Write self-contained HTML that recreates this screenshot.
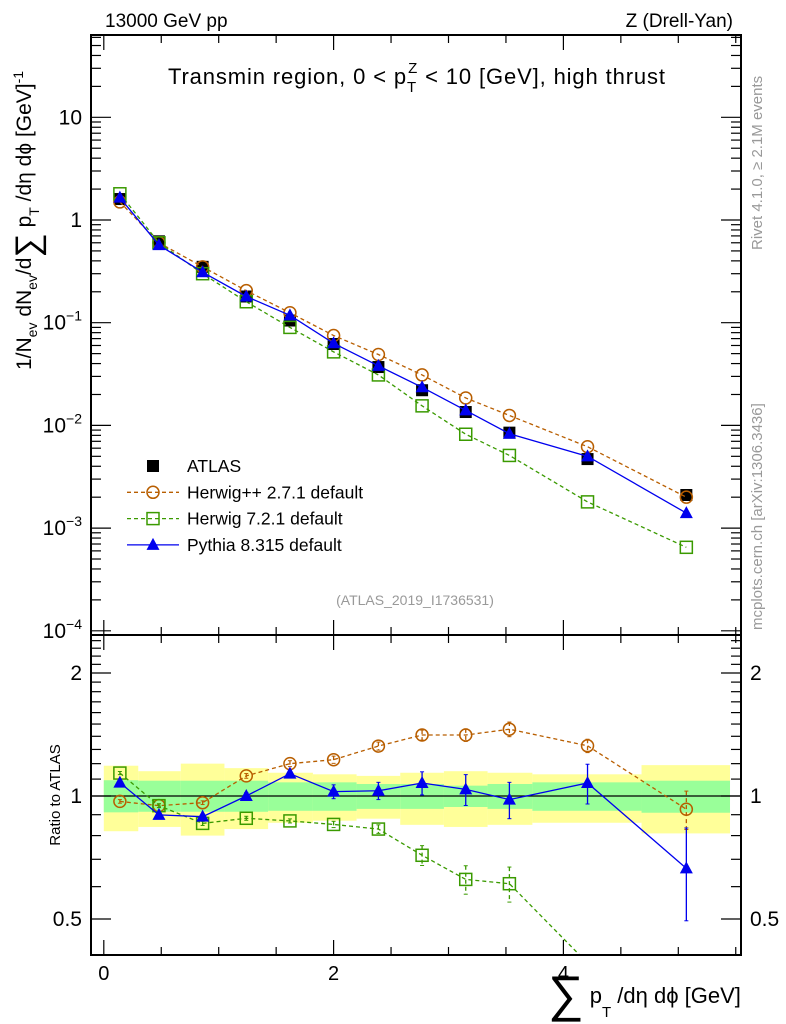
<!DOCTYPE html>
<html><head><meta charset="utf-8"><style>
body{margin:0;background:#fff;}
svg{display:block;font-family:"Liberation Sans",sans-serif;}
</style></head><body>
<svg id="c" width="786" height="1024" xmlns="http://www.w3.org/2000/svg">
<text x="105" y="27" font-size="19">13000 GeV pp</text>
<text x="733" y="27" font-size="19" text-anchor="end">Z (Drell-Yan)</text>
<text x="168" y="84" font-size="22" textLength="497">Transmin region, 0 &lt; p<tspan font-size="15" dy="8">T</tspan><tspan font-size="15" dx="-9" dy="-19">Z</tspan><tspan dy="11"> &lt; 10 [GeV], high thrust</tspan></text>
<text transform="translate(762,250) rotate(-90)" font-size="15" fill="#999">Rivet 4.1.0, ≥ 2.1M events</text>
<text transform="translate(762,630) rotate(-90)" font-size="15" fill="#999">mcplots.cern.ch [arXiv:1306.3436]</text>
<text x="415" y="605" font-size="14" fill="#999" text-anchor="middle">(ATLAS_2019_I1736531)</text>
<text transform="translate(31,370) rotate(-90)" font-size="21">1/N<tspan font-size="14" dy="6">ev</tspan><tspan dy="-6"> dN</tspan><tspan font-size="14" dy="6">ev</tspan><tspan dy="-6">/d</tspan><tspan font-size="34" dy="8">∑</tspan><tspan dy="-8"> p</tspan><tspan font-size="14" dy="8">T</tspan><tspan dy="-8"> /dη dϕ  [GeV]</tspan><tspan font-size="14" dy="-8">-1</tspan></text>
<text transform="translate(60,795) rotate(-90)" font-size="15" text-anchor="middle">Ratio to ATLAS</text>
<text x="548" y="1003" font-size="22"><tspan font-size="50" dy="8">∑</tspan><tspan dy="-8"> p</tspan><tspan font-size="15" dy="14">T</tspan><tspan dy="-14"> /dη dϕ [GeV]</tspan></text>
<g id="g"></g>
</svg>
<script>
const xCenters=[0.14,0.48,0.86,1.24,1.62,2.0,2.39,2.77,3.15,3.53,4.21,5.07];
const binEdges=[0,0.3,0.67,1.05,1.43,1.82,2.2,2.58,2.96,3.34,3.73,4.68,5.45];
const atlas=[1.6,0.62,0.35,0.18,0.105,0.062,0.037,0.022,0.0135,0.0085,0.0047,0.0021];
const herwigpp=[1.5,0.6,0.35,0.205,0.125,0.075,0.049,0.031,0.0185,0.0125,0.0062,0.002];
const herwig7=[1.8,0.6,0.3,0.16,0.09,0.052,0.031,0.0155,0.0082,0.0051,0.0018,0.00065];
const pythia=[1.65,0.57,0.31,0.18,0.118,0.063,0.038,0.0235,0.014,0.0083,0.005,0.0014];
const rHpp=[0.97,0.947,0.963,1.12,1.2,1.227,1.325,1.41,1.41,1.457,1.327,0.928];
const rHppErr=[0.01,0.01,0.01,0.015,0.02,0.025,0.03,0.04,0.05,0.06,0.05,0.1];
const rH7=[1.138,0.947,0.857,0.882,0.869,0.852,0.83,0.716,0.625,0.61,0.39,0.31];
const rH7Err=[0.01,0.01,0.01,0.01,0.01,0.015,0.02,0.04,0.05,0.06,0.015,0.05];
const rPy=[1.078,0.899,0.89,1.0,1.134,1.025,1.03,1.076,1.038,0.98,1.076,0.665];
const rPyErr=[0.01,0.01,0.01,0.02,0.02,0.04,0.05,0.07,0.09,0.1,0.12,0.17];
const bandYellowHi=[1.186,1.15,1.2,1.17,1.14,1.13,1.12,1.14,1.15,1.14,1.13,1.19];
const bandYellowLo=[0.82,0.84,0.8,0.83,0.86,0.87,0.88,0.85,0.84,0.85,0.86,0.81];
const bandGreenHi=[1.093,1.09,1.09,1.09,1.08,1.08,1.07,1.07,1.06,1.07,1.08,1.09];
const bandGreenLo=[0.912,0.915,0.915,0.915,0.92,0.92,0.93,0.93,0.94,0.93,0.92,0.91];
const yTickLabels=["10","1","10^-1","10^-2","10^-3","10^-4"];
const yTickVals=[10,1,0.1,0.01,0.001,0.0001];

const NS="http://www.w3.org/2000/svg";
const g=document.getElementById('g');
const L=91,R=741,T=35,MB=635,RB=955;
const X=v=>103.8+v*114.9;
const Y=v=>220-Math.log10(v)*102.7;
const RY=v=>796-Math.log10(v)*408.6;
function el(t,a,p){const e=document.createElementNS(NS,t);for(const k in a)e.setAttribute(k,a[k]);(p||g).appendChild(e);return e;}

const defs=el('defs',{});
const c1=el('clipPath',{id:'cm'},defs);el('rect',{x:L,y:T,width:R-L,height:MB-T},c1);
const c2=el('clipPath',{id:'cr'},defs);el('rect',{x:L,y:MB,width:R-L,height:RB-MB},c2);

const bandG=el('g',{'clip-path':'url(#cr)'});


for(let i=0;i<xCenters.length;i++){
  const x0=X(binEdges[i]),x1=X(binEdges[i+1]);
  const ry=el('rect',{x:x0,y:RY(bandYellowHi[i]),width:x1-x0,height:RY(bandYellowLo[i])-RY(bandYellowHi[i]),fill:'#ffff99'},bandG);
  
  
}
for(let i=0;i<xCenters.length;i++){
  const x0=X(binEdges[i]),x1=X(binEdges[i+1]);
  const rg=el('rect',{x:x0,y:RY(bandGreenHi[i]),width:x1-x0,height:RY(bandGreenLo[i])-RY(bandGreenHi[i]),fill:'#99ff99'},bandG);
  
  
}
el('line',{x1:L,x2:R,y1:RY(1),y2:RY(1),stroke:'#000','stroke-width':1.3});

function marker(type,x,y,color,parent){
  if(type==='sq')return el('rect',{x:x-6,y:y-6,width:12,height:12,fill:'#000'},parent);
  if(type==='osq')return el('rect',{x:x-6,y:y-6,width:12,height:12,fill:'none',stroke:color,'stroke-width':1.5},parent);
  if(type==='oc')return el('circle',{cx:x,cy:y,r:6,fill:'none',stroke:color,'stroke-width':1.5},parent);
  return el('path',{d:`M${x},${y-7}L${x+6.5},${y+5}L${x-6.5},${y+5}Z`,fill:color},parent);
}
function series(vals,yf,color,dash,type,name,errs,clip,lineOn){
  const sg=el('g',{'clip-path':clip});
  
  
  if(lineOn){
    const pts=vals.map((v,i)=>X(xCenters[i])+','+yf(v)).join(' ');
    el('polyline',{points:pts,fill:'none',stroke:color,'stroke-width':1.3,'stroke-dasharray':dash||'none'},sg);
  }
  vals.forEach((v,i)=>{
    const x=X(xCenters[i]);
    if(errs){el('line',{x1:x,x2:x,y1:yf(v+errs[i]),y2:yf(v-errs[i]),stroke:color,'stroke-width':1.3,'stroke-dasharray':dash||'none'},sg);
      el('line',{x1:x-2,x2:x+2,y1:yf(v+errs[i]),y2:yf(v+errs[i]),stroke:color},sg);
      el('line',{x1:x-2,x2:x+2,y1:yf(v-errs[i]),y2:yf(v-errs[i]),stroke:color},sg);}
    const m=marker(type,x,yf(v),color,sg);
    
    
  });
}
const BR='#b85e00',GR='#3a9a00',BL='#0000ee';
series(atlas,Y,'#000',null,'sq','atlas-data',null,'url(#cm)',false);
series(herwigpp,Y,BR,'4,3','oc','herwigpp-main',null,'url(#cm)',true);
series(herwig7,Y,GR,'4,3','osq','herwig7-main',null,'url(#cm)',true);
series(pythia,Y,BL,null,'tri','pythia-main',null,'url(#cm)',true);
series(rHpp,RY,BR,'4,3','oc','herwigpp-ratio',rHppErr,'url(#cr)',true);
series(rH7,RY,GR,'4,3','osq','herwig7-ratio',rH7Err,'url(#cr)',true);
series(rPy,RY,BL,null,'tri','pythia-ratio',rPyErr,'url(#cr)',true);

const f1=el('rect',{x:L,y:T,width:R-L,height:MB-T,fill:'none',stroke:'#000','stroke-width':2});


const f2=el('rect',{x:L,y:MB,width:R-L,height:RB-MB,fill:'none',stroke:'#000','stroke-width':2});



for(let v=0;v<=5.5;v+=0.5){
  const x=X(v),len=(v%2===0)?15:8;
  [[T,1],[MB,-1],[MB,1],[RB,-1]].forEach(([y,s])=>el('line',{x1:x,x2:x,y1:y,y2:y+s*len,stroke:'#000','stroke-width':1.2}));
}
[0,2,4].forEach(v=>{const t=el('text',{x:X(v),y:980,'font-size':20,'text-anchor':'middle'});t.textContent=v;
  });

for(let d=-4;d<=1;d++){
  for(let m=1;m<=9;m++){
    const v=m*Math.pow(10,d),y=Y(v);
    if(y<T||y>MB)continue;
    const len=m===1?20:10;
    el('line',{x1:L,x2:L+len,y1:y,y2:y,stroke:'#000','stroke-width':1.2});
    el('line',{x1:R,x2:R-len,y1:y,y2:y,stroke:'#000','stroke-width':1.2});
  }
}
yTickVals.forEach((v,i)=>{
  const lab=yTickLabels[i];const t=el('text',{x:82,y:Y(v)+7,'font-size':21,'text-anchor':'end'});
  
  if(lab.includes('^')){const [b,e]=lab.split('^');t.textContent=b;const s=el('tspan',{'font-size':14,dy:-9},t);s.textContent=e.replace('-','−');}
  else t.textContent=lab;
});
[0.5,0.6,0.7,0.8,0.9,1,1.1,1.2,1.3,1.4,1.5,1.6,1.7,1.8,1.9,2,2.1,2.2,2.3,2.4].forEach(v=>{
  const y=RY(v);if(y<MB||y>RB)return;const len=(v===0.5||v===1||v===2)?20:10;
  el('line',{x1:L,x2:L+len,y1:y,y2:y,stroke:'#000','stroke-width':1.2});
  el('line',{x1:R,x2:R-len,y1:y,y2:y,stroke:'#000','stroke-width':1.2});
});
[[2,'2'],[1,'1'],[0.5,'0.5']].forEach(([v,s])=>{
  const a=el('text',{x:82,y:RY(v)+7,'font-size':21,'text-anchor':'end'});a.textContent=s;
  
  const b=el('text',{x:750,y:RY(v)+7,'font-size':21});b.textContent=s;
  
});

const leg=el('g',{});


const legItems=[['ATLAS','sq','#000',null],['Herwig++ 2.7.1 default','oc',BR,'4,3'],['Herwig 7.2.1 default','osq',GR,'4,3'],['Pythia 8.315 default','tri',BL,null]];
legItems.forEach((it,i)=>{
  const y=466+i*26.3;
  const eg=el('g',{},leg);
  
  
  if(i>0)el('line',{x1:127,x2:179,y1:y,y2:y,stroke:it[2],'stroke-width':1.3,'stroke-dasharray':it[3]||'none'},eg);
  marker(it[1],153,y,it[2],eg);
  const t=el('text',{x:187,y:y+6,'font-size':17.5},eg);t.textContent=it[0];
});
</script>
</body></html>
